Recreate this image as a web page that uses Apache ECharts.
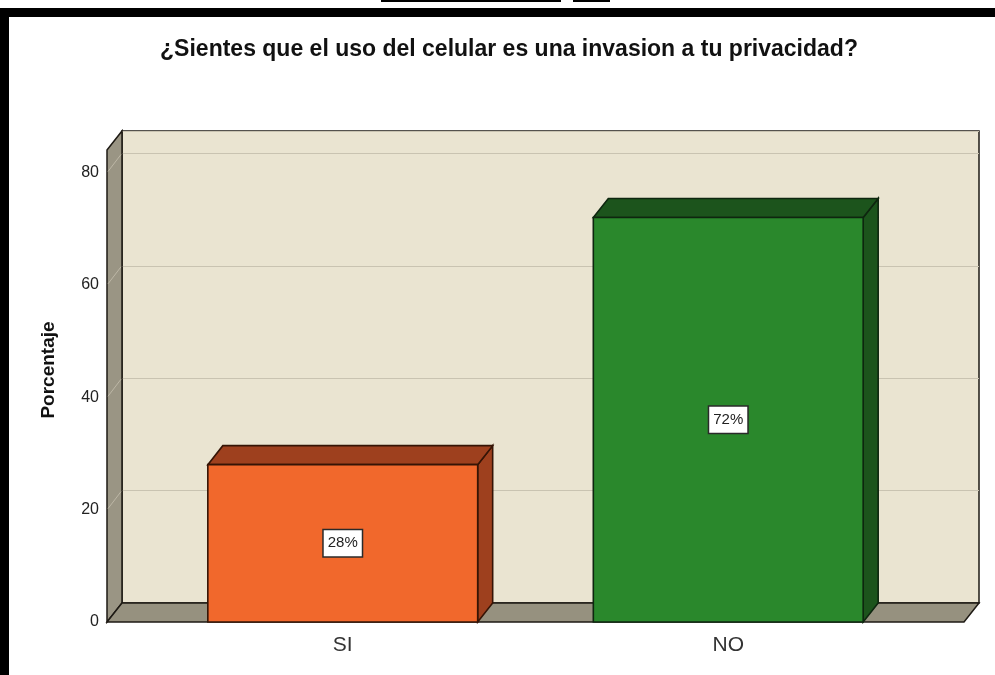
<!DOCTYPE html>
<html>
<head>
<meta charset="utf-8">
<script src="https://cdn.jsdelivr.net/npm/echarts@6/dist/echarts.min.js"></script>
<style>
  html, body { margin: 0; padding: 0; background: #fff; }
  #chart { width: 995px; height: 675px; }
</style>
</head>
<body>
<div id="chart"></div>
<script>
  // datos del grafico
  var categories = ['SI', 'NO'];
  var percentages = [28, 72];
  var barLabels = ['28%', '72%'];
  var yTicks = [0, 20, 40, 60, 80];
  var barColors = [
    { face: '#f1682c', dark: '#9e401e', line: '#351406' },
    { face: '#2a882c', dark: '#1c541c', line: '#0e260f' }
  ];

  // profundidad del efecto 3D (frente -> fondo)
  var DX = 15, DY = -19;
  var Y_MAX = 84;
  var FONT = 'Liberation Sans, Arial, sans-serif';

  var chart = echarts.init(document.getElementById('chart'));

  // pared izquierda + piso, y las lineas diagonales en la pared
  function renderWalls(params, api) {
    var v = api.value(0);
    var children = [];
    if (params.dataIndex === 0) {
      var ft = api.coord([0, Y_MAX]);
      var fb = api.coord([0, 0]);
      var fr = api.coord([1, 0]);
      children.push({
        type: 'polygon',
        shape: { points: [ft, [ft[0] + DX, ft[1] + DY], [fb[0] + DX, fb[1] + DY], fb] },
        style: { fill: '#9a9584', stroke: '#1e1a14', lineWidth: 1.5 }
      });
      children.push({
        type: 'polygon',
        shape: { points: [fb, [fb[0] + DX, fb[1] + DY], [fr[0] + DX, fr[1] + DY], fr] },
        style: { fill: '#96917f', stroke: '#1e1a14', lineWidth: 1.5 }
      });
    }
    if (v > 0) {
      var p = api.coord([0, v]);
      children.push({
        type: 'line',
        shape: { x1: p[0] + 1, y1: p[1] - 1, x2: p[0] + DX - 1, y2: p[1] + DY + 1 },
        style: { stroke: '#bdb7a6', lineWidth: 1 }
      });
    }
    return { type: 'group', children: children };
  }

  // barras 3D
  function renderBar(params, api) {
    var idx = params.dataIndex;
    var top = api.coord([api.value(0), api.value(1)]);
    var base = api.coord([api.value(0), 0]);
    var w = api.size([1, 0])[0] * 0.7;
    var l = top[0] - w / 2, r = top[0] + w / 2;
    var c = barColors[idx];
    return {
      type: 'group',
      children: [
        {
          type: 'polygon',
          shape: { points: [[r, top[1]], [r + DX, top[1] + DY], [r + DX, base[1] + DY], [r, base[1]]] },
          style: { fill: c.dark, stroke: c.line, lineWidth: 1.6 }
        },
        {
          type: 'polygon',
          shape: { points: [[l, top[1]], [l + DX, top[1] + DY], [r + DX, top[1] + DY], [r, top[1]]] },
          style: { fill: c.dark, stroke: c.line, lineWidth: 1.6 }
        },
        {
          type: 'rect',
          shape: { x: l, y: top[1], width: w, height: base[1] - top[1] },
          style: { fill: c.face, stroke: c.line, lineWidth: 1.6 }
        },
        {
          type: 'text',
          x: top[0],
          y: (top[1] + base[1]) / 2,
          style: {
            text: barLabels[idx],
            font: '15px ' + FONT,
            fill: '#222',
            align: 'center',
            verticalAlign: 'middle',
            backgroundColor: '#fff',
            borderColor: '#2a2a2a',
            borderWidth: 1.5,
            padding: [6, 4, 5, 4]
          }
        }
      ]
    };
  }

  var hidden = { show: false };

  chart.setOption({
    animation: false,
    backgroundColor: '#fff',
    grid: [
      // pared del fondo
      { left: 122, top: 131, width: 857, height: 472, show: true,
        backgroundColor: '#eae4d1', borderColor: '#1e1a14', borderWidth: 1.5 },
      // plano frontal (escala del eje Y)
      { left: 107, top: 150, width: 857, height: 472 },
      // barras
      { left: 150, top: 150, width: 771, height: 472 }
    ],
    xAxis: [
      { gridIndex: 0, type: 'value', min: 0, max: 1, show: false },
      { gridIndex: 1, type: 'value', min: 0, max: 1, show: false },
      {
        gridIndex: 2, type: 'category', data: categories,
        axisLine: hidden, axisTick: hidden, splitLine: hidden,
        axisLabel: { fontSize: 21, color: '#333', fontFamily: FONT, margin: 13 }
      }
    ],
    yAxis: [
      {
        gridIndex: 0, type: 'value', min: 0, max: Y_MAX, interval: 20,
        axisLine: hidden, axisTick: hidden, axisLabel: hidden,
        splitLine: { show: true, lineStyle: { color: '#c9c3b1', width: 1.2 } }
      },
      {
        gridIndex: 1, type: 'value', min: 0, max: Y_MAX, interval: 20,
        axisLine: hidden, axisTick: hidden, splitLine: hidden,
        axisLabel: {
          fontSize: 16, color: '#222', fontFamily: FONT, margin: 8,
          formatter: function (v) { return yTicks.indexOf(v) >= 0 ? String(v) : ''; }
        }
      },
      { gridIndex: 2, type: 'value', min: 0, max: Y_MAX, show: false }
    ],
    graphic: [
      { type: 'rect', shape: { x: 0, y: 8, width: 995, height: 9 }, style: { fill: '#000' } },
      { type: 'rect', shape: { x: 0, y: 8, width: 9, height: 667 }, style: { fill: '#000' } },
      { type: 'rect', shape: { x: 381, y: 0, width: 180, height: 2 }, style: { fill: '#000' } },
      { type: 'rect', shape: { x: 573, y: 0, width: 37, height: 2 }, style: { fill: '#000' } },
      {
        type: 'text', x: 509, y: 50,
        style: {
          text: '¿Sientes que el uso del celular es una invasion a tu privacidad?',
          font: 'bold 23px ' + FONT, fill: '#111', align: 'center', verticalAlign: 'middle'
        }
      },
      {
        type: 'text', x: 49, y: 370, rotation: Math.PI / 2,
        style: {
          text: 'Porcentaje', font: 'bold 19px ' + FONT, fill: '#111',
          align: 'center', verticalAlign: 'middle'
        }
      }
    ],
    series: [
      {
        type: 'custom', xAxisIndex: 1, yAxisIndex: 1,
        data: yTicks.map(function (v) { return [v]; }),
        encode: { x: -1, y: 0 },
        renderItem: renderWalls, silent: true, z: 2
      },
      {
        type: 'custom', xAxisIndex: 2, yAxisIndex: 2,
        data: percentages.map(function (v, i) { return [i, v]; }),
        encode: { x: 0, y: 1 },
        renderItem: renderBar, z: 3
      }
    ]
  });
</script>
</body>
</html>
